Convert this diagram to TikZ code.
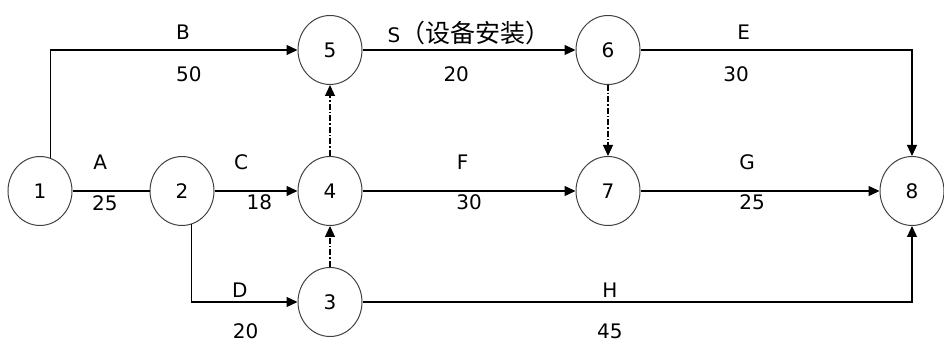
\documentclass[tikz,border=0pt]{standalone}
\usepackage{fontspec}
\setmainfont{DejaVu Sans}
\newfontfamily\cjk[Scale=1.25]{Noto Sans CJK SC}
\usetikzlibrary{arrows.meta,shapes.geometric}

\begin{document}
\begin{tikzpicture}[x=1pt, y=-1pt, font=\fontsize{20}{24}\selectfont,
	event/.style={ellipse, draw=black!75, line width=1pt, minimum width=64pt, minimum height=69pt, inner sep=0pt},
	act/.style={draw, line width=1.2pt, -{Triangle[length=11pt,width=10pt]}},
	dummy/.style={act, dash pattern=on 6pt off 2pt on 1.5pt off 2pt}]
	\useasboundingbox (0,0) rectangle (944,344);
	% Define the events with specific positions
	\node[event] (e1) at (40, 191) {1};
	\node[event] (e2) at (182, 191) {2};
	\node[event] (e3) at (330, 302) {3};
	\node[event] (e4) at (330, 191) {4};
	\node[event] (e5) at (330, 50) {5};
	\node[event] (e6) at (608, 50) {6};
	\node[event] (e7) at (608, 191) {7};
	\node[event] (e8) at (912, 191) {8};

	% Draw the activities with their names and durations
	\draw[act, -] (e1) -- node[pos=0.36, yshift=29pt] (lA) {A} node[pos=0.42, yshift=-12pt] (dA) {25} (e2);
	\draw[act] (e1.72) |- node[pos=0.768, yshift=18pt] (lB) {B} node[pos=0.78, yshift=-24pt] (dB) {50} (e5);
	\draw[act] (e2) -- node[pos=0.32, yshift=29pt] (lC) {C} node[pos=0.54, yshift=-11pt] (dC) {18} (e4);
	\draw[act] (e2.-74) |- node[pos=0.728, yshift=12pt] (lD) {D} node[pos=0.755, yshift=-29pt] (dD) {20} (e3);
	\draw[act] (e5) -- node[pos=0.50, yshift=17pt] (lS) {S{\cjk（设备安装）}} node[pos=0.44, yshift=-24pt] (dS) {20} (e6);
	\draw[act] (e6) -| node[pos=0.19, yshift=18pt] (lE) {E} node[pos=0.176, yshift=-24pt] (dE) {30} (e8);
	\draw[act] (e4) -- node[pos=0.47, yshift=29pt] (lF) {F} node[pos=0.50, yshift=-11pt] (dF) {30} (e7);
	\draw[act] (e7) -- node[pos=0.446, yshift=29pt] (lG) {G} node[pos=0.467, yshift=-11pt] (dG) {25} (e8);
	\draw[act] (e3) -| node[pos=0.225, yshift=12pt] (lH) {H} node[pos=0.225, yshift=-29pt] (dH) {45} (e8);

	% Dummy activities
	\draw[dummy] (e3) -- (e4);
	\draw[dummy] (e4) -- (e5);
	\draw[dummy] (e6) -- (e7);
\end{tikzpicture}
\end{document}
